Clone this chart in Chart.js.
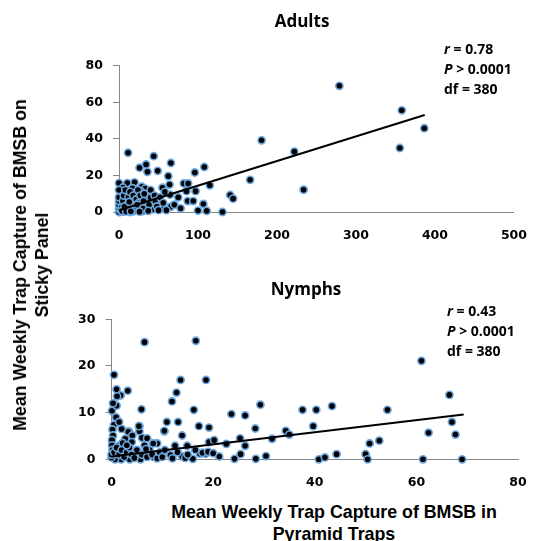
<!DOCTYPE html>
<html lang="en">
<head>
    <meta charset="UTF-8">
    <title>BMSB trap capture: sticky panel vs pyramid traps</title>
    <script src="https://cdn.jsdelivr.net/npm/chart.js"></script>
    <style>
        body { margin: 0; width: 535px; height: 541px; background: #fff; overflow: hidden; position: relative; }
        canvas { position: absolute; left: 0; }
        .txt { position: absolute; font-family: "Liberation Sans", Arial, sans-serif; font-weight: bold; color: #000; white-space: nowrap; }
        .title { font-family: "Open Sans", sans-serif; font-size: 17px; transform: translate(-50%, -50%); }
        .stats { font-family: "Open Sans", sans-serif; font-size: 14px; line-height: 20px; }
        .axis { font-size: 17.8px; line-height: 22px; text-align: center; transform: translate(-50%, -50%); }
        .ytitle { transform: translate(-50%, -50%) rotate(-90deg); }
    </style>
</head>
<body>
    <canvas id="adultCanvas" width="535" height="245" style="top:0"></canvas>
    <canvas id="nymphCanvas" width="535" height="240" style="top:250px"></canvas>

    <div class="txt title" style="left:302px; top:20px">Adults</div>
    <div class="txt title" style="left:306px; top:288px">Nymphs</div>
    <div class="txt stats" style="left:444px; top:39px"><i>r</i> = 0.78<br><i>P</i> &gt; 0.0001<br>df = 380</div>
    <div class="txt stats" style="left:447px; top:301px"><i>r</i> = 0.43<br><i>P</i> &gt; 0.0001<br>df = 380</div>
    <div class="txt axis ytitle" style="left:31px; top:265px">Mean Weekly Trap Capture of BMSB on<br>Sticky Panel</div>
    <div class="txt axis" style="left:334px; top:523px">Mean Weekly Trap Capture of BMSB in<br>Pyramid Traps</div>

    <script>
        // Adults: pyramid trap capture (x) vs sticky panel capture (y)
        const adultX = [131, 140.7, 144.5, 166, 180.5, 222, 233.7, 279, 355.5, 358, 386.5,
            11.5, 44, 26, 34.3, 36, 49, 65.7, 62.4, 96, 108, 82, 87.5, 64, 55, 64.5, 85.4, 97, 87, 94,
            106.8, 115, 100, 111, 54.4, 65.7, 41.5, 42.7, 29.8, 17.6, 1,
            0, 10.5, 19.7, 5, 17, 29, 33, 3, 11.3, 21.7, 28, 35.5, 7, 15.5, 26, 34.3, 39.8, 1, 9, 19.7,
            28, 3, 13.4, 24, 36.4, 6,
            0, 0, 0, 0, 0, 0, 2, 4, 5, 6, 8, 8, 10, 12, 12, 14, 14, 16, 18, 18, 20, 22, 22, 24, 25, 27,
            30, 31, 32, 38, 40, 45, 46, 48, 50, 52, 56, 58, 60, 70, 75, 78, 4, 7, 9, 13, 15, 23, 26, 37];
        const adultY = [0, 9.3, 7.3, 17.6, 39.2, 33, 12.2, 69, 35, 55.6, 45.8,
            32.4, 30.5, 24.2, 26, 22, 22.5, 26.8, 19.6, 21.6, 24.6, 15.6, 15.6, 15, 13.3, 9.5, 11.4, 11.4, 6, 6,
            4.4, 14.6, 0.8, 0.6, 2.9, 2.9, 4.8, 1.5, 0.5, 0.4, 0,
            15.8, 15.8, 16.2, 13.4, 13, 13.8, 12.8, 9.7, 10, 10.6, 11.2, 9.7, 7, 7.5, 7.9, 6.4, 7.9, 5.1, 4.2, 4.6,
            3.9, 2.4, 2, 1.5, 2.4, 0.2,
            0, 2, 4, 6, 8, 12, 1, 3, 6, 9, 12, 1, 3, 5, 8, 11, 0, 2, 6, 9, 1, 3, 7, 12, 5, 9,
            2, 6, 10, 4, 12, 9, 6, 3, 1, 8, 5, 11, 1, 4, 8, 2, 0.5, 3, 0.3, 5.5, 0.4, 4, 0.2, 0.6];
        const adultTrendX = [0, 387];
        const adultTrendY = [1, 53];

        // Nymphs
        const nymphX = [6.5, 16.6, 0.5, 1, 1.8, 3.2, 1.1, 0.1, 1, 0.9, 5.9, 13.6, 12.8, 11.9, 18.6, 16.2, 10.9,
            13.1, 10.4, 13.9, 17.2, 19.2, 5.5, 5.5, 3.4, 23.6, 26.3, 29.3, 28.3, 26.3, 25.4, 24.2, 28.4, 30.4,
            31.6, 34.3, 35, 37.6, 40.3, 39.7, 43.4, 44.3, 40.8, 42, 50, 50.4, 50.8, 52.7, 54.3, 61, 61.3, 62.4,
            66.5, 67, 67.7, 69, 22.6, 21.2, 19.2, 20.2, 14.9, 12.5, 9, 8.3, 16, 17.4, 18.5, 13.9, 11.6, 5.7,
            3.6, 1.9, 0.7, 25.3, 0.5, 0.2, 0.3, 0.1, 0.1, 0.2, 0, 3.3, 4.1, 2.7, 4, 5.4, 6, 1.6, 8.2, 10.4,
            17.9, 19, 20, 0, 0.5, 1, 1.5, 2, 2.5, 3, 3.5, 4, 4.5, 5, 6, 6.5, 7, 7.5, 8, 9, 9.5, 10, 10.5, 12,
            13, 14.5, 15, 16.5, 2, 1.5, 0.3, 7, 6.8, 2.2, 3];
        const nymphY = [25.1, 25.4, 18.1, 15, 13.7, 14.7, 13.5, 10.4, 11.5, 9, 10.7, 17, 14.3, 12.4, 17, 10.6, 8,
            8, 6, 5.1, 7.1, 6.8, 7.1, 6, 6, 9.7, 9.4, 11.7, 6.6, 2.9, 1.1, 0.1, 0.1, 0.7,
            4.4, 6.1, 5.3, 10.6, 10.6, 7.1, 11.4, 1.1, 0, 0.4, 1.1, 0, 3.4, 4, 10.6, 21.1, 0, 5.7,
            13.8, 8, 5.3, 0, 3.3, 0.6, 3.7, 4.1, 2.9, 2.9, 3.4, 0.5, 0.1, 1.2, 1.2, 0.6, 0.9, 0,
            0, 0, 0, 4.5, 7.4, 6.4, 5.1, 4.1, 3, 2, 0.4, 5.9, 5.1, 4.4, 3.7, 7.1, 4.6, 3, 3.4, 6.1,
            1.4, 1.6, 1.3, 1, 1.5, 2.5, 1, 2, 0.5, 1.5, 2.5, 1, 0.3, 2, 1, 3, 0.5, 2, 1, 0.2, 1.5, 0.5, 2, 0.2,
            1.5, 0.3, 1, 2, 6.5, 8, 12, 4.5, 2.2, 3.5, 3];
        const nymphTrendX = [0, 69.3];
        const nymphTrendY = [0.6, 9.6];

        const tickFont = { family: 'DejaVu Sans', size: 12.5, weight: 'bold' };
        const axisGray = '#868686';

        function pairs(xs, ys) {
            return xs.map((x, i) => ({ x: x, y: ys[i] }));
        }

        // fixed plot box so both panels line up with the reference
        function makeChart(id, cfg) {
            const canvas = document.getElementById(id);
            return new Chart(canvas.getContext('2d'), {
                type: 'scatter',
                data: {
                    datasets: [{
                        data: pairs(cfg.px, cfg.py),
                        backgroundColor: '#000',
                        borderColor: '#6CA6DE',
                        borderWidth: 1.6,
                        pointRadius: 3.6,
                        clip: false,
                        order: 2
                    }, {
                        type: 'line',
                        data: pairs(cfg.tx, cfg.ty),
                        borderColor: '#000',
                        borderWidth: 2,
                        pointRadius: 0,
                        fill: false,
                        clip: false,
                        order: 1
                    }]
                },
                options: {
                    responsive: false,
                    animation: false,
                    events: [],
                    layout: { padding: { top: cfg.top, right: canvas.width - cfg.right, left: 0, bottom: 0 } },
                    plugins: { legend: { display: false }, title: { display: false }, tooltip: { enabled: false } },
                    scales: {
                        x: {
                            type: 'linear', min: 0, max: cfg.xMax,
                            ticks: { stepSize: cfg.xStep, font: tickFont, color: '#000', padding: 8 },
                            grid: { display: false },
                            border: { display: true, color: axisGray, width: 1 },
                            afterFit: s => { s.height = canvas.height - cfg.bottom; }
                        },
                        y: {
                            type: 'linear', min: 0, max: cfg.yMax,
                            ticks: { stepSize: cfg.yStep, font: tickFont, color: '#000', padding: 10 },
                            grid: { drawOnChartArea: false, drawTicks: true, tickLength: 6, color: axisGray },
                            border: { display: true, color: axisGray, width: 1 },
                            afterFit: s => { s.width = cfg.left; }
                        }
                    }
                }
            });
        }

        makeChart('adultCanvas', {
            px: adultX, py: adultY, tx: adultTrendX, ty: adultTrendY,
            xMax: 500, xStep: 100, yMax: 80, yStep: 20,
            left: 119, right: 517, top: 65.7, bottom: 212
        });
        makeChart('nymphCanvas', {
            px: nymphX, py: nymphY, tx: nymphTrendX, ty: nymphTrendY,
            xMax: 80, xStep: 20, yMax: 30, yStep: 10,
            left: 111.5, right: 518, top: 69.3, bottom: 209.3
        });
    </script>
</body>
</html>
